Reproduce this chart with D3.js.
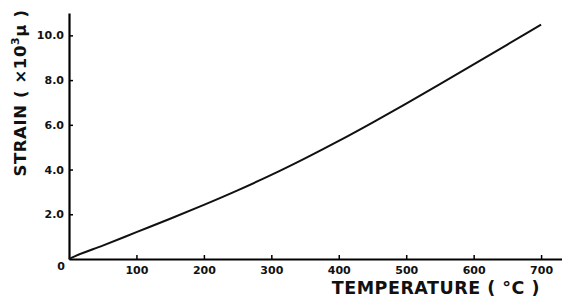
<!DOCTYPE html>
<html>
<head>
<meta charset="utf-8">
<script src="https://cdn.jsdelivr.net/npm/d3@7"></script>
<style>
body { margin:0; background:#fff; }
svg { display:block; }
</style>
</head>
<body>
<div id="chart"></div>
<script>
// data
var temps  = [0, 10, 50, 100, 150, 200, 250, 300, 350, 400, 450, 500, 550, 600, 650, 700];
var strain = [0, 0.14, 0.6, 1.2, 1.8, 2.42, 3.07, 3.76, 4.5, 5.28, 6.1, 6.95, 7.82, 8.7, 9.59, 10.48];
var xTicks = [100, 200, 300, 400, 500, 600, 700];
var yTicks = [2, 4, 6, 8, 10];

var W = 562, H = 300;
var svg = d3.select("#chart").append("svg")
    .attr("width", W).attr("height", H);

// scales
var x = d3.scaleLinear().domain([0, 731]).range([69, 562]);
var y = d3.scaleLinear().domain([0, 11]).range([259, 13]);

var font = "'DejaVu Sans', sans-serif";

// x axis
var xAxis = d3.axisBottom(x).tickValues(xTicks).tickSizeInner(-4).tickSizeOuter(0).tickPadding(7)
    .tickFormat(d3.format("d"));
var gx = svg.append("g").attr("transform", "translate(0," + y(0) + ")").call(xAxis);
gx.select(".domain").attr("stroke-width", 2.2);
gx.selectAll(".tick line").attr("stroke-width", 1.5);
gx.selectAll("text").attr("font-family", font).attr("font-size", 11).attr("font-weight", "bold").attr("fill", "#111");

// y axis
var yAxis = d3.axisLeft(y).tickValues(yTicks).tickSizeInner(-4).tickSizeOuter(0).tickPadding(5)
    .tickFormat(d3.format(".1f"));
var gy = svg.append("g").attr("transform", "translate(" + x(0) + ",0)").call(yAxis);
gy.select(".domain").attr("stroke-width", 2.2);
gy.selectAll(".tick line").attr("stroke-width", 1.5);
gy.selectAll("text").attr("font-family", font).attr("font-size", 11).attr("font-weight", "bold").attr("fill", "#111");

// shared origin label
svg.append("text")
    .attr("x", x(0) - 8).attr("y", y(0) + 11)
    .attr("text-anchor", "middle")
    .attr("font-family", font).attr("font-size", 11).attr("font-weight", "bold")
    .attr("fill", "#111")
    .text("0");

// curve
var line = d3.line()
    .x(function(d, i) { return x(temps[i]); })
    .y(function(d) { return y(d); })
    .curve(d3.curveMonotoneX);

svg.append("path")
    .datum(strain)
    .attr("d", line)
    .attr("fill", "none")
    .attr("stroke", "#111")
    .attr("stroke-width", 2);

// axis titles
svg.append("text")
    .attr("x", 540).attr("y", 294)
    .attr("text-anchor", "end")
    .attr("font-family", font).attr("font-size", 17.5).attr("font-weight", "bold")
    .attr("fill", "#111")
    .attr("letter-spacing", 0.5)
    .text("TEMPERATURE ( °C )");

svg.append("text")
    .attr("transform", "translate(26,93) rotate(-90)")
    .attr("text-anchor", "middle")
    .attr("font-family", font).attr("font-size", 16.5).attr("font-weight", "bold")
    .attr("fill", "#111")
    .attr("letter-spacing", 0.6)
    .html("STRAIN ( ×10<tspan dy='-7' font-size='11'>3</tspan><tspan dy='7'>μ )</tspan>");
</script>
</body>
</html>
